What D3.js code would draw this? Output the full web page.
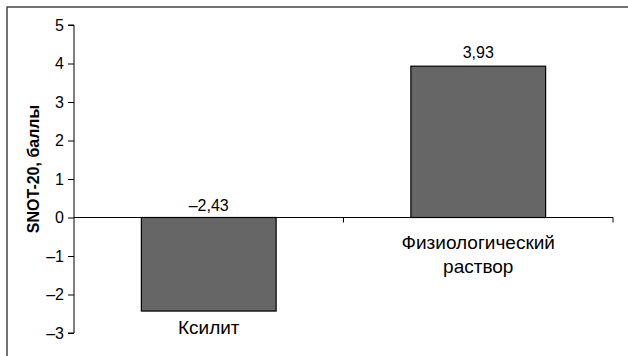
<!DOCTYPE html>
<html><head><meta charset="utf-8">
<script src="https://cdn.jsdelivr.net/npm/d3@7"></script>
<style>body{margin:0;background:#fff}svg{display:block}text{font-family:"Liberation Sans",Arial,sans-serif}</style>
</head><body>
<svg id="c" width="628" height="356"></svg>
<script>
const categories = ["Ксилит", "Физиологический\nраствор"];
const values = [-2.43, 3.93];
const valueLabels = ["–2,43", "3,93"];
const yTicks = [-3, -2, -1, 0, 1, 2, 3, 4, 5];
const yTitle = "SNOT-20, баллы";

const svg = d3.select("#c");
// frame
svg.append("line").attr("x1",7).attr("x2",628).attr("y1",7).attr("y2",7).attr("stroke","#444").attr("stroke-width",1.5);
svg.append("line").attr("x1",7).attr("x2",7).attr("y1",6.5).attr("y2",356).attr("stroke","#444").attr("stroke-width",1.5);

const x0 = 74, x1 = 613;
const y = d3.scaleLinear().domain([-3,5]).range([333,25]);
const x = d3.scaleBand().domain(categories).range([x0,x1]).paddingInner(0).paddingOuter(0);
const bw = x.bandwidth()*0.5;

// y axis
const yAxis = d3.axisLeft(y).tickValues(yTicks).tickSize(6).tickPadding(4)
  .tickFormat(d => d < 0 ? "–" + Math.abs(d) : String(d));
const ga = svg.append("g").attr("transform",`translate(${x0},0)`).call(yAxis);
ga.attr("font-size",null).attr("font-family",null);
ga.select(".domain").attr("stroke","#000").attr("d",`M-6,${y(5)}H0V${y(-3)}H-6`);
ga.selectAll(".tick line").attr("stroke","#000");
ga.selectAll(".tick text").style("font-size","16px").attr("fill","#000");

// bars
svg.selectAll("rect.bar").data(values).enter().append("rect")
  .attr("x",(d,i)=>x(categories[i])+(x.bandwidth()-bw)/2)
  .attr("width",bw)
  .attr("y",d=>y(Math.max(0,d)))
  .attr("height",d=>Math.abs(y(d)-y(0)))
  .attr("fill","#666").attr("stroke","#000").attr("stroke-width",1.2);

// x axis at 0
const gx = svg.append("g").attr("transform",`translate(0,${y(0)})`)
  .call(d3.axisBottom(x).tickSize(0).tickFormat(""));
gx.select(".domain").attr("stroke","#000").attr("d",`M${x0},0H${x1}`);
// category boundary ticks
svg.selectAll("line.xt").data(categories).enter().append("line")
  .attr("x1",d=>x(d)+x.bandwidth()).attr("x2",d=>x(d)+x.bandwidth())
  .attr("y1",y(0)).attr("y2",y(0)+5).attr("stroke","#000");

// value labels
svg.selectAll("text.vl").data(values).enter().append("text")
  .attr("x",(d,i)=>x(categories[i])+x.bandwidth()/2)
  .attr("y",d=>d>=0 ? y(d)-8 : y(0)-7)
  .attr("text-anchor","middle").style("font-size","16px").attr("fill","#000")
  .text((d,i)=>valueLabels[i]);

// category labels
categories.forEach((c,i)=>{
  const lines = c.split("\n");
  const cx = x(c)+x.bandwidth()/2;
  const baseY = values[i] < 0 ? y(values[i]) + 23 : y(0) + 31;
  const t = svg.append("text").attr("text-anchor","middle").style("font-size","19px").attr("fill","#000");
  lines.forEach((l,j)=>t.append("tspan").attr("x",cx).attr("y",baseY + j*24).text(l));
});

// y title
svg.append("text").attr("transform",`translate(39,169) rotate(-90)`)
  .attr("text-anchor","middle").style("font-size","16px").attr("font-weight","bold").attr("fill","#000")
  .text(yTitle);
</script>
</body></html>
